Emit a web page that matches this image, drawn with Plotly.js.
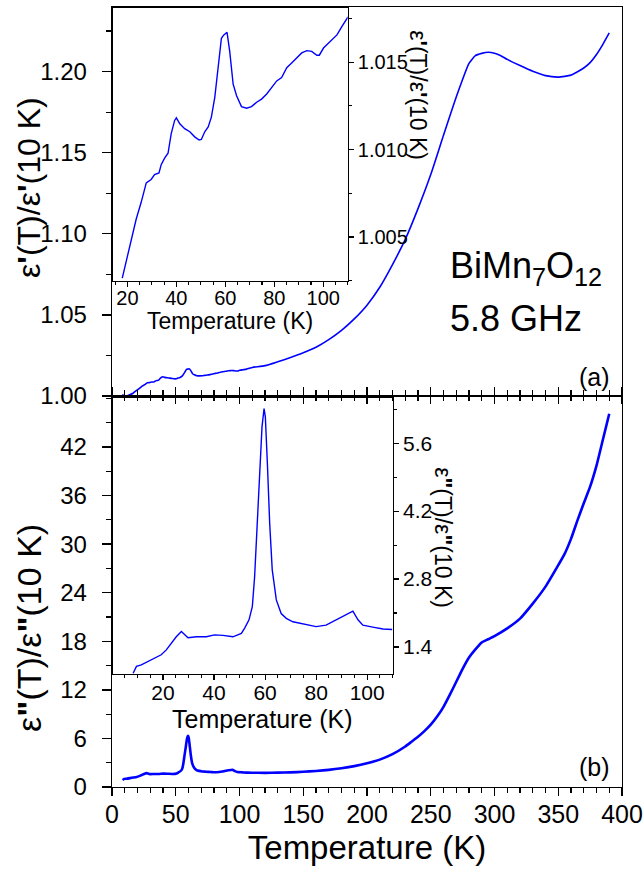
<!DOCTYPE html>
<html>
<head>
<meta charset="utf-8">
<script src="https://cdn.plot.ly/plotly-3.0.1.min.js"></script>
<style>html,body{margin:0;padding:0;background:#fff;}#chart{width:643px;height:869px;}</style>
</head>
<body>
<div id="chart"></div>
<script>
// ---- data: epsilon'(T)/epsilon'(10 K) ----
var realStartT = [8, 11, 14, 16.5];
var realStartV = [1.0008, 1.0000, 1.0008, 1.0017];
var realLowT = [17.9, 19.5, 21.5, 23.6, 25.6, 27.7, 29.7, 31.1, 32.9, 33.8, 35.2, 36.6, 37.9, 39.3, 40.0, 41.4, 43.4, 45.5, 47.5, 49.3, 50.2, 51.6, 53.0, 54.3, 55.7, 57.1, 58.4, 59.4, 60.7, 61.8, 63.2, 64.6, 66.6, 68.7, 70.7, 72.8, 74.8, 76.9, 78.9, 81.0, 83.0, 85.1, 87.1, 89.2, 91.2, 93.3, 95.3, 97.4, 98.4, 100.1, 102.8, 105.6, 107.6, 110.1];
var realLowV = [1.00265, 1.00359, 1.00472, 1.00603, 1.00697, 1.0081, 1.00829, 1.00857, 1.00867, 1.00914, 1.00951, 1.00979, 1.01092, 1.01167, 1.01182, 1.01148, 1.0112, 1.01102, 1.01073, 1.01055, 1.01058, 1.01102, 1.0113, 1.01186, 1.01299, 1.01468, 1.01637, 1.01656, 1.01671, 1.01562, 1.01374, 1.01308, 1.01246, 1.01237, 1.01246, 1.01271, 1.01289, 1.01318, 1.01352, 1.01393, 1.01412, 1.01468, 1.01496, 1.01524, 1.01553, 1.01566, 1.01562, 1.0154, 1.0154, 1.01581, 1.01618, 1.01656, 1.01703, 1.01759];
var realHighT = [120, 130, 140, 150, 160, 170, 180, 190, 200, 210, 220, 230, 240, 250, 260, 270, 280, 285, 290, 295, 300, 305, 310, 320, 330, 340, 350, 360, 370, 375, 380, 385, 390];
var realHighV = [1.0187, 1.0211, 1.0237, 1.0266, 1.0300, 1.0347, 1.0404, 1.0475, 1.0560, 1.0670, 1.0810, 1.0965, 1.1155, 1.1365, 1.1607, 1.1843, 1.2050, 1.2098, 1.2112, 1.2119, 1.2113, 1.2098, 1.2075, 1.2037, 1.2002, 1.1975, 1.1966, 1.1978, 1.2022, 1.2055, 1.2105, 1.2168, 1.2238];

// ---- data: epsilon''(T)/epsilon''(10 K) ----
var imagLowT = [8.3, 9.6, 11.5, 14.1, 16.7, 19.3, 21.3, 23.3, 25.2, 27.2, 28.5, 29.8, 33.1, 37.0, 40.2, 43.5, 47.4, 50.7, 52.0, 53.7, 55.0, 55.9, 56.8, 57.9, 58.8, 59.6, 60.1, 60.9, 61.8, 62.8, 64.4, 66.3, 68.3, 70.9, 73.5, 77.4, 80.0, 83.9, 87.9, 91.1, 94.4, 96.4, 98.3, 102.2, 106.2, 109.8];
var imagLowV = [0.86, 1.00, 1.03, 1.10, 1.17, 1.24, 1.34, 1.48, 1.61, 1.72, 1.65, 1.59, 1.61, 1.61, 1.65, 1.64, 1.61, 1.68, 1.79, 1.96, 2.23, 2.85, 3.81, 4.98, 5.94, 6.31, 6.14, 5.18, 3.95, 2.99, 2.37, 2.09, 1.99, 1.92, 1.89, 1.85, 1.82, 1.85, 1.96, 2.06, 2.14, 1.96, 1.85, 1.81, 1.77, 1.76];
var imagHighT = [120, 130, 140, 150, 160, 170, 180, 190, 200, 210, 220, 230, 235, 240, 245, 250, 255, 260, 265, 270, 275, 280, 285, 290, 295, 300, 310, 320, 330, 340, 350, 355, 360, 365, 370, 375, 380, 385, 390];
var imagHighV = [1.75, 1.77, 1.81, 1.88, 1.98, 2.12, 2.32, 2.58, 2.93, 3.38, 4.05, 5.0, 5.6, 6.2, 6.9, 7.7, 8.7, 9.9, 11.4, 13.0, 14.6, 16.0, 17.0, 17.85, 18.25, 18.65, 19.6, 20.8, 22.65, 24.75, 27.4, 28.8, 30.65, 32.9, 35.05, 37.1, 39.7, 42.9, 46.1];

// ---- tick labels / texts ----
var mainXTicks = [0, 50, 100, 150, 200, 250, 300, 350, 400];
var imagYTicks = [0, 6, 12, 18, 24, 30, 36, 42];
var xTitle = 'Temperature (K)';
var yTitleA = 'ε<b>\'</b>(T)/ε<b>\'</b>(10 K)';
var yTitleB = 'ε<b>"</b>(T)/ε<b>"</b>(10 K)';
var sampleLabel = 'BiMn<sub>7</sub>O<sub>12</sub>';
var freqLabel = '5.8 GHz';

var mainRealT = realStartT.concat(realLowT, realHighT);
var mainRealV = realStartV.concat(realLowV, realHighV);
var mainImagT = imagLowT.concat(imagHighT);
var mainImagV = imagLowV.concat(imagHighV);

var blue = '#0000ff';
var FONT = 'Liberation Sans, Arial, sans-serif';

var traces = [
  {x: mainRealT, y: mainRealV, xaxis: 'x', yaxis: 'y', type: 'scatter', mode: 'lines', line: {color: blue, width: 1.6, shape: 'spline', smoothing: 0.5}, hoverinfo: 'skip'},
  {x: mainImagT, y: mainImagV, xaxis: 'x2', yaxis: 'y2', type: 'scatter', mode: 'lines', line: {color: blue, width: 2.6, shape: 'spline', smoothing: 0.5}, hoverinfo: 'skip'},
  {x: realLowT, y: realLowV, xaxis: 'x3', yaxis: 'y3', type: 'scatter', mode: 'lines', line: {color: blue, width: 1.4}, hoverinfo: 'skip'},
  {x: imagLowT, y: imagLowV, xaxis: 'x4', yaxis: 'y4', type: 'scatter', mode: 'lines', line: {color: blue, width: 1.4}, hoverinfo: 'skip'}
];

function ax(o) {
  var base = {showgrid: false, zeroline: false, showline: true, linecolor: '#000', linewidth: 1.3,
    ticks: 'outside', tickcolor: '#000', tickwidth: 1.3, color: '#000', ticklabeloverflow: 'allow'};
  for (var k in o) base[k] = o[k];
  return base;
}
function mnr(dt, t0, len) {
  return {dtick: dt, tick0: t0, ticklen: len, ticks: 'outside', tickcolor: '#000', tickwidth: 1.1};
}
function note(x, y, text, size, angle, xanchor) {
  return {xref: 'paper', yref: 'paper', x: x, y: y, text: text, textangle: angle || 0, showarrow: false,
    font: {size: size}, xanchor: xanchor || 'center', yanchor: 'middle'};
}

var splitY = 0.5013;

var layout = {
  width: 643, height: 869,
  margin: {l: 112, r: 21, t: 7, b: 82},
  paper_bgcolor: '#fff', plot_bgcolor: 'rgba(0,0,0,0)',
  showlegend: false,
  font: {family: FONT, color: '#000'},
  xaxis: ax({domain: [0, 1], anchor: 'y', range: [0, 400], tickmode: 'array', tickvals: mainXTicks, showticklabels: false,
    ticklen: 7, mirror: true, minor: mnr(10, 0, 4)}),
  yaxis: ax({domain: [splitY, 1], anchor: 'x', range: [1.0, 1.2398], dtick: 0.05, tick0: 1.0, tickformat: '.2f',
    ticklen: 9, mirror: true, tickfont: {size: 24}, ticklabelstandoff: 10,
    minor: mnr(0.025, 1.0, 5)}),
  xaxis2: ax({domain: [0, 1], anchor: 'y2', range: [0, 400], tickmode: 'array', tickvals: mainXTicks, ticklen: 8, mirror: 'ticks',
    tickfont: {size: 25}, ticklabelstandoff: -3, minor: mnr(10, 0, 5),
    title: {text: xTitle, font: {size: 33}, standoff: 8}}),
  yaxis2: ax({domain: [0, splitY], anchor: 'x2', range: [0, 48.3], tickmode: 'array', tickvals: imagYTicks,
    ticklen: 9, mirror: true, tickfont: {size: 24}, ticklabelstandoff: 10,
    minor: mnr(3, 0, 5)}),
  xaxis3: ax({domain: [0.0014, 0.4622], anchor: 'y3', range: [14, 110], dtick: 20, tick0: 0, ticklen: 5,
    mirror: true, tickfont: {size: 20}, linewidth: 1.1, tickwidth: 1.1, ticklabelstandoff: -6,
    minor: mnr(5, 0, 3)}),
  yaxis3: ax({domain: [0.6491, 0.9987], anchor: 'x3', side: 'right', range: [1.0025, 1.0181], dtick: 0.005, tick0: 1.0,
    tickformat: '.3f', ticklen: 5, mirror: true, tickfont: {size: 20}, linewidth: 1.1, tickwidth: 1.1,
    minor: mnr(0.0025, 1.0, 3)}),
  xaxis4: ax({domain: [0.0014, 0.5504], anchor: 'y4', range: [0.3, 110], dtick: 20, tick0: 0, ticklen: 5,
    mirror: true, tickfont: {size: 21}, linewidth: 1.1, tickwidth: 1.1, ticklabelstandoff: -5,
    minor: mnr(5, 0, 3)}),
  yaxis4: ax({domain: [0.1449, 0.4987], anchor: 'x4', side: 'right', range: [0.844, 6.53], dtick: 1.4, tick0: 0,
    tickformat: '.1f', ticklen: 5, mirror: true, tickfont: {size: 21}, linewidth: 1.1, tickwidth: 1.1,
    minor: mnr(0.7, 0, 3)}),
  annotations: [
    note(-0.1627, 0.768, yTitleA, 32, -90),
    note(-0.1627, 0.204, yTitleB, 34, -90),
    note(0.600, 0.887, yTitleA, 23, 90),
    note(0.649, 0.319, yTitleB, 23, 90),
    note(0.2314, 0.5975, xTitle, 23),
    note(0.295, 0.0875, xTitle, 25),
    note(0.659, 0.665, sampleLabel, 36, 0, 'left'),
    note(0.659, 0.601, freqLabel, 36, 0, 'left'),
    note(0.947, 0.5256, '(a)', 25),
    note(0.947, 0.0256, '(b)', 25)
  ]
};

Plotly.newPlot('chart', traces, layout, {staticPlot: true, displayModeBar: false});
</script>
</body>
</html>
